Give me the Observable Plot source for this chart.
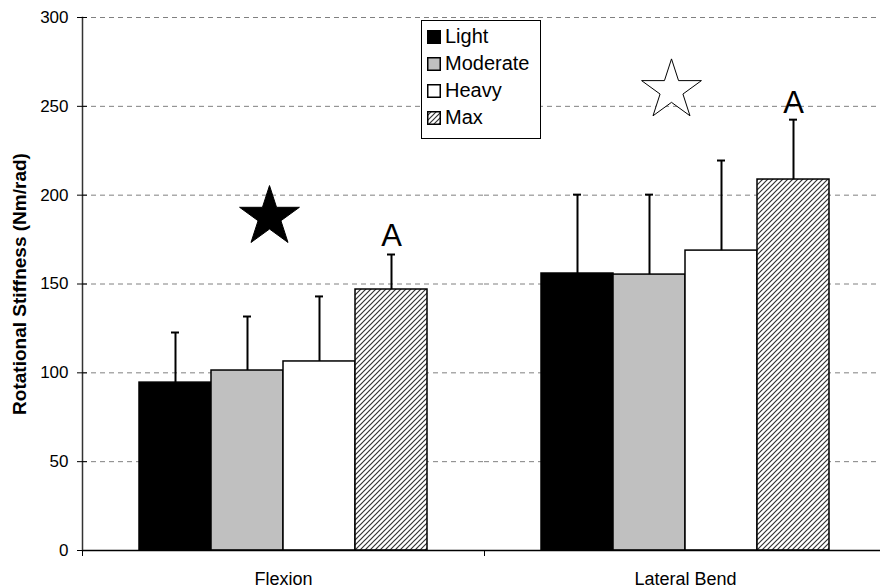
<!DOCTYPE html>
<html>
<head>
<meta charset="utf-8">
<script src="https://cdn.jsdelivr.net/npm/d3@7"></script>
<script src="https://cdn.jsdelivr.net/npm/@observablehq/plot@0.6"></script>
<style>
  html, body { margin: 0; padding: 0; background: white; }
  #wrap { position: relative; width: 880px; height: 588px; font-family: "Liberation Sans", Arial, sans-serif; }
  #legend { position: absolute; left: 421px; top: 20px; width: 118px; height: 115px; border: 1px solid #000; background: #fff; padding-top: 2px; box-sizing: content-box; }
  .row { display: flex; align-items: center; height: 27px; padding-left: 5px; font-size: 20px; color: #000; }
  .row svg { margin-right: 4px; }
  [aria-label="y-axis label"] text { font-size: 19px; font-weight: bold; }
</style>
</head>
<body>
<svg width="0" height="0" style="position:absolute">
  <defs>
    <pattern id="hatch" patternUnits="userSpaceOnUse" width="5" height="5">
      <rect width="5" height="5" fill="white"></rect>
      <path d="M-1,1 L1,-1 M0,5 L5,0 M4,6 L6,4" stroke="#333" stroke-width="1.2"></path>
    </pattern>
  </defs>
</svg>
<div id="wrap"><div id="legend"></div></div>
<script>
const categories = ["Flexion", "Lateral Bend"];
const series = ["Light", "Moderate", "Heavy", "Max"];
const seriesFill = ["#000000", "#c0c0c0", "#ffffff", "url(#hatch)"];
const flexionValues = [94.5, 101.3, 106.4, 146.9];
const flexionErrTop = [122.7, 131.7, 143.0, 166.6];
const lateralValues = [155.9, 155.3, 168.8, 208.8];
const lateralErrTop = [200.3, 200.3, 219.5, 242.5];
const yTicks = [0, 50, 100, 150, 200, 250, 300];
const gridTicks = [50, 100, 150, 200, 250, 300];
const starGroups = ["Flexion", "Lateral Bend"];
const starFilled = [true, false];
const starValues = [187.7, 259];
const letterGroups = ["Flexion", "Lateral Bend"];
const letterText = ["A", "A"];
const letterValues = [171.6, 246.5];

const rows = [];
series.forEach((s, i) => {
  rows.push({group: categories[0], series: s, value: flexionValues[i], err: flexionErrTop[i]});
  rows.push({group: categories[1], series: s, value: lateralValues[i], err: lateralErrTop[i]});
});
const stars = starGroups.map((g, i) => ({group: g, filled: starFilled[i], value: starValues[i], anchor: "Heavy"}));
const letters = letterGroups.map((g, i) => ({group: g, text: letterText[i], value: letterValues[i], anchor: "Max"}));

const chart = Plot.plot({
  width: 880,
  height: 588,
  marginLeft: 82,
  marginRight: -6,
  marginTop: 17,
  marginBottom: 38,
  style: {fontFamily: "Liberation Sans, Arial, sans-serif", fontSize: "17px", color: "#000", background: "transparent"},
  fx: {domain: categories, padding: 0, label: null},
  x: {domain: series, paddingInner: 0, paddingOuter: 0.764, axis: null},
  y: {domain: [0, 300], label: null},
  color: {domain: series, range: seriesFill},
  marks: [
    Plot.ruleY(gridTicks, {stroke: "#808080", strokeDasharray: "5,4", strokeWidth: 1}),
    Plot.barY(rows, {fx: "group", x: "series", y: "value", fill: "series", stroke: "#000", strokeWidth: 1.5}),
    Plot.ruleX(rows, {fx: "group", x: "series", y1: "value", y2: "err", stroke: "#000", strokeWidth: 2}),
    Plot.tickY(rows, {fx: "group", x: "series", y: "err", stroke: "#000", strokeWidth: 2, insetLeft: 32, insetRight: 32}),
    Plot.dot(stars, {fx: "group", x: "anchor", y: "value", symbol: "star", r: 18.8, dx: -50,
      fill: d => d.filled ? "#000" : "#fff", stroke: "#000", strokeWidth: 1}),
    Plot.text(letters, {fx: "group", x: "anchor", y: "value", text: "text", fontSize: 31, lineAnchor: "bottom", fill: "#000"}),
    Plot.ruleY([0], {stroke: "#000", strokeWidth: 1.5}),
    Plot.frame({anchor: "left", facetAnchor: "left", stroke: "#333", strokeWidth: 1.5}),
    Plot.axisY({ticks: yTicks, tickSize: 5, tickPadding: 9, fontSize: 17, label: "Rotational Stiffness (Nm/rad)", labelAnchor: "center", labelArrow: "none", labelOffset: 70}),
    Plot.axisY({ticks: yTicks, tickSize: -5, tickFormat: () => "", label: null}),
    Plot.axisFx({anchor: "bottom", tickSize: 0, tickPadding: 22, fontSize: 18, label: null}),
    Plot.axisFx({anchor: "bottom", tickSize: 6, dx: -201, tickFormat: () => "", label: null})
  ]
});
document.getElementById("wrap").prepend(chart);

const legend = document.getElementById("legend");
series.forEach((s, i) => {
  const row = document.createElement("div");
  row.className = "row";
  row.innerHTML = `<svg width="14" height="14"><rect x="0.75" y="0.75" width="12.5" height="12.5" fill="${seriesFill[i]}" stroke="#000" stroke-width="1.5"></rect></svg><span>${s}</span>`;
  legend.appendChild(row);
});
</script>
</body>
</html>
